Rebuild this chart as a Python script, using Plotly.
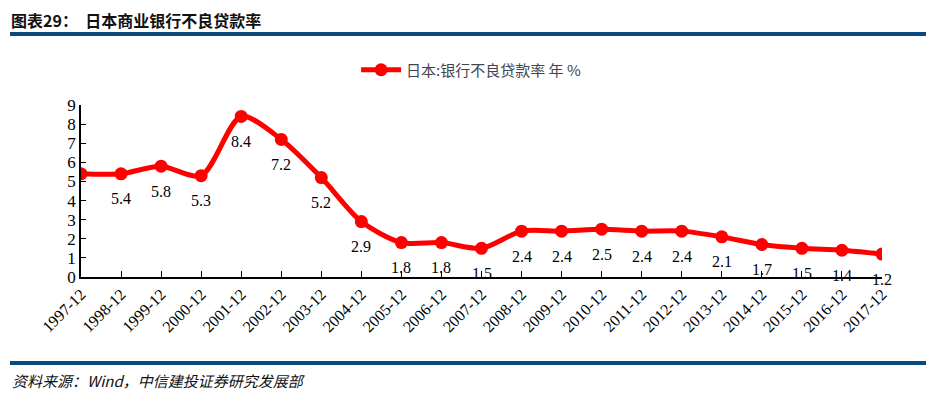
import plotly.graph_objects as go

categories = ["1997-12", "1998-12", "1999-12", "2000-12", "2001-12", "2002-12", "2003-12",
              "2004-12", "2005-12", "2006-12", "2007-12", "2008-12", "2009-12", "2010-12",
              "2011-12", "2012-12", "2013-12", "2014-12", "2015-12", "2016-12", "2017-12"]
values = [5.4, 5.4, 5.8, 5.3, 8.4, 7.2, 5.2, 2.9, 1.8, 1.8, 1.5, 2.4, 2.4, 2.5, 2.4, 2.4,
          2.1, 1.7, 1.5, 1.4, 1.2]
labels = ["", "5.4", "5.8", "5.3", "8.4", "7.2", "5.2", "2.9", "1.8", "1.8", "1.5", "2.4",
          "2.4", "2.5", "2.4", "2.4", "2.1", "1.7", "1.5", "1.4", "1.2"]
yticks = [0, 1, 2, 3, 4, 5, 6, 7, 8, 9]

SERIF = "Liberation Serif"
CJK = "Noto Sans CJK SC"
RULE = "#0B4A7E"

fig = go.Figure()
fig.add_trace(go.Scatter(
    x=list(range(len(categories))), y=values, mode="lines+markers",
    name="日本:银行不良贷款率 年 %",
    line=dict(color="#FF0000", width=5, shape="spline", smoothing=0.8),
    marker=dict(color="#FF0000", size=13),
))

for i, (v, t) in enumerate(zip(values, labels)):
    if t:
        fig.add_annotation(x=i, y=v, text=t, showarrow=False, yshift=-25,
                           font=dict(family=SERIF, size=16, color="#000000"))

fig.update_layout(
    width=920, height=382,
    margin=dict(l=73, r=46, t=97, b=113, autoexpand=False),
    paper_bgcolor="white", plot_bgcolor="white",
    showlegend=True,
    legend=dict(orientation="h", x=0.487, xanchor="center", y=(277-70)/172, yanchor="middle",
                font=dict(family=CJK, size=15, color="#44444f"), itemwidth=40,
                bgcolor="rgba(0,0,0,0)"),
    xaxis=dict(
        range=[0, 20], tickmode="array", tickvals=list(range(len(categories))),
        ticktext=categories, tickangle=-45, showgrid=False, zeroline=False,
        automargin=False,
        showline=True, linecolor="black", linewidth=1.5,
        ticks="inside", ticklen=6, tickcolor="black",
        tickfont=dict(family=SERIF, size=16, color="#000000"),
    ),
    yaxis=dict(
        range=[0, 9], tickmode="array", tickvals=yticks, showgrid=False, zeroline=False,
        automargin=False,
        showline=True, linecolor="black", linewidth=1.5,
        ticks="inside", ticklen=5, tickcolor="black",
        tickfont=dict(family=SERIF, size=17, color="#000000"),
    ),
    shapes=[
        dict(type="line", xref="paper", yref="paper", x0=-71/801, x1=845/801,
             y0=(277-34)/172, y1=(277-34)/172,
             line=dict(color=RULE, width=4)),
        dict(type="line", xref="paper", yref="paper", x0=-71/801, x1=845/801,
             y0=(277-363)/172, y1=(277-363)/172,
             line=dict(color=RULE, width=4)),
    ],
)

fig.add_annotation(xref="paper", yref="paper", x=-71/801, y=(277-19.5)/172,
                   xanchor="left", yanchor="middle", showarrow=False, borderpad=0,
                   text="<b>图表29：  日本商业银行不良贷款率</b>",
                   font=dict(family=CJK, size=16, color="#111111"))
fig.add_annotation(xref="paper", yref="paper", x=-71/801, y=(277-380)/172,
                   xanchor="left", yanchor="middle", showarrow=False,
                   text="<i>资料来源：Wind，中信建投证券研究发展部</i>",
                   font=dict(family=CJK, size=15, color="#111111"))

fig.write_html("out.html")
